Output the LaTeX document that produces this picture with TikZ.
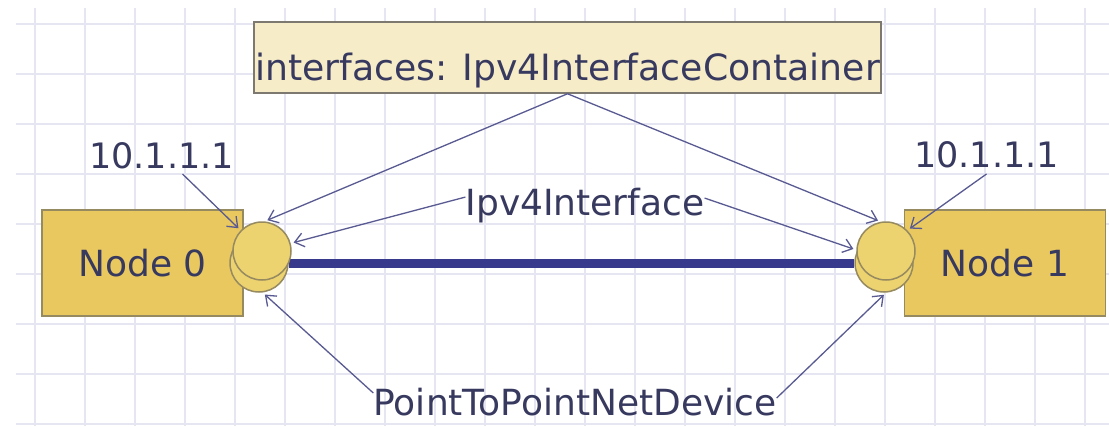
\documentclass[tikz,border=0pt]{standalone}
\usepackage{fontspec}
\setmainfont{DejaVu Sans}
\usetikzlibrary{arrows.meta}
\definecolor{txt}{RGB}{55,57,95}
\definecolor{gridc}{RGB}{230,230,243}
\definecolor{arrowc}{RGB}{88,90,145}
\definecolor{linkc}{RGB}{55,58,140}
\definecolor{boxfill}{RGB}{233,200,96}
\definecolor{boxdraw}{RGB}{150,138,96}
\definecolor{iffill}{RGB}{237,210,112}
\definecolor{topfill}{RGB}{246,236,200}
\definecolor{topdraw}{RGB}{125,120,112}
\begin{document}
\begin{tikzpicture}[x=1pt,y=-1pt,
  gridline/.style={draw=gridc,line width=2pt},
  lbl/.style={text=txt,font=\fontsize{36}{40}\selectfont,inner sep=0pt,anchor=base},
  iplbl/.style={lbl,font=\fontsize{35}{40}\selectfont},
  nodebox/.style={draw=boxdraw,fill=boxfill,line width=1.5pt,text=txt,
    font=\fontsize{36}{40}\selectfont,minimum width=201pt,minimum height=106pt,inner sep=0pt},
  topbox/.style={draw=topdraw,fill=topfill,line width=1.5pt,text=txt,
    font=\fontsize{36.2}{40}\selectfont,minimum width=627pt,inner xsep=0pt,inner ysep=0pt,
    text height=58pt,text depth=13pt,anchor=base},
  iface/.style={circle,draw=boxdraw,fill=iffill,line width=1.5pt,minimum size=58pt,inner sep=0pt},
  link/.style={draw=linkc,line width=9pt},
  conn/.style={draw=arrowc,line width=1.3pt,-{Straight Barb[length=9pt,width=14pt]}}
]
\useasboundingbox (0,0) rectangle (1109,426);
\fill[white] (0,0) rectangle (1109,426);
\foreach \x in {35,85,...,1085} \draw[gridline] (\x,8) -- (\x,426);
\foreach \y in {24,74,...,424} \draw[gridline] (16,\y) -- (1109,\y);

% top container box
\node[topbox] (top) at (567.5,80) {interfaces: Ipv4InterfaceContainer};

% node boxes
\node[nodebox] (n0) at (142.5,263) {Node 0};
\node[nodebox] (n1) at (1005,263) {Node 1};

% interfaces (lower disks)
\node[iface] (if0b) at (259,263) {};
\node[iface] (if1b) at (884,263) {};
% link
\draw[link] (if0b.east) -- (if1b.west);
% interfaces (upper disks)
\node[iface] (if0a) at (262,251) {};
\node[iface] (if1a) at (886,251) {};

% labels
\node[iplbl] (ipl) at (161.5,168) {10.1.1.1};
\node[iplbl] (ipr) at (986.5,167) {10.1.1.1};
\node[lbl] (ipv4) at (585,215) {Ipv4Interface};
\node[lbl] (p2p) at (575,415) {PointToPointNetDevice};

% connectors
\draw[conn,shorten >=3pt] (top.south) -- (if0a.85);
\draw[conn,shorten >=3pt] (top.south) -- (if1a.100);
\draw[conn,shorten >=3pt] ([yshift=8pt]ipv4.west) -- (if0a.15);
\draw[conn,shorten >=3pt] ([yshift=7pt]ipv4.east) -- (if1a.178);
\draw[conn,shorten >=3pt] ([xshift=21pt,yshift=-6pt]ipl.base) -- (if0a.136);
\draw[conn,shorten >=3pt] ([yshift=-7pt]ipr.base) -- (if1a.44);
\draw[conn,shorten >=3pt] ([yshift=22pt]p2p.base west) -- (if0b.-83);
\draw[conn,shorten >=3pt] ([yshift=17pt]p2p.base east) -- (if1b.-86);
\end{tikzpicture}
\end{document}
